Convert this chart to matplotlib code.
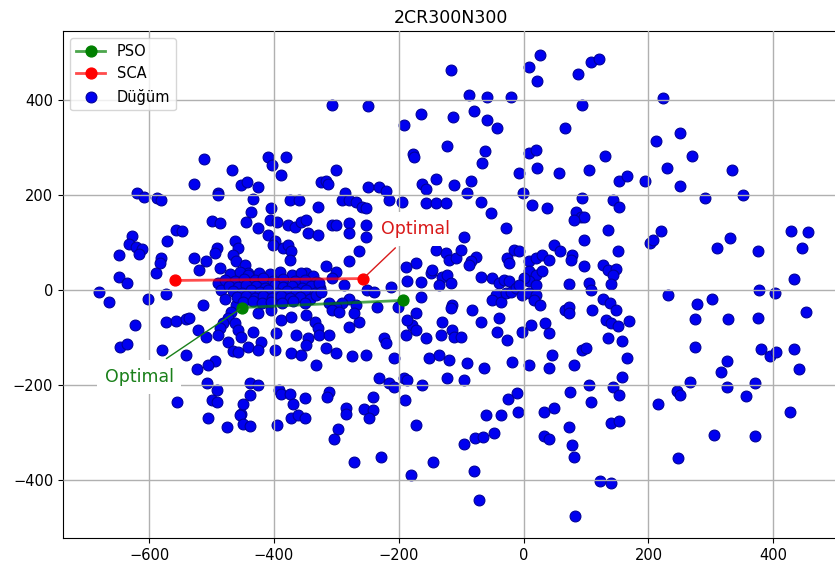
import numpy as np
from matplotlib import pyplot as plt

# node positions (Düğüm)
nodes_top = [
    (-512, 275), (-468, 253), (-528, 223), (-453, 220), (-443, 228), (-426, 216), (-490, 203),
    (-410, 279), (-403, 263), (-380, 279), (-388, 242), (-620, 203), (-608, 196), (-587, 193),
    (-581, 190), (-434, 191), (-375, 190), (-360, 190), (-324, 228),
    (-307, 389), (-250, 387), (-116, 463), (-88, 411), (-58, 407), (-20, 407), (8, 469), (27, 495),
    (21, 440), (-165, 371), (-192, 347), (-113, 364), (-80, 377), (-58, 357), (-43, 340), (67, 340),
    (-123, 302), (-177, 286), (-175, 279), (-62, 293), (-66, 267), (8, 288), (20, 295), (22, 256),
    (-8, 246), (57, 246), (-300, 253), (-317, 229), (-313, 222), (-250, 216), (-232, 216),
    (-221, 209), (-163, 223), (-157, 212), (-140, 233), (-112, 220), (-85, 230), (-91, 203),
    (-1, 205), (-286, 203),
    (87, 455), (108, 479), (121, 486), (94, 389), (223, 404), (250, 331), (212, 314), (130, 282),
    (270, 282), (105, 253), (152, 230), (165, 239), (195, 230), (229, 256), (333, 253), (251, 219),
]

nodes_left = [
    (-490, 200), (-405, 173), (-437, 165), (-329, 175), (-500, 145), (-487, 140), (-444, 144),
    (-426, 131), (-407, 147), (-395, 142), (-377, 137), (-366, 133), (-357, 144), (-348, 147),
    (-410, 116), (-399, 102), (-345, 119), (-329, 116), (-557, 126), (-548, 124), (-571, 102),
    (-627, 114), (-632, 96), (-621, 91), (-611, 86), (-616, 75), (-648, 74), (-581, 67), (-582, 56),
    (-589, 35), (-648, 28), (-636, 14), (-680, -4), (-664, -26), (-602, -20), (-573, -9),
    (-528, 67), (-520, 42), (-509, 60), (-492, 88), (-494, 77), (-487, 46), (-463, 102), (-458, 88),
    (-466, 74), (-460, 60), (-447, 53), (-442, 35), (-435, 25), (-402, 95), (-386, 88), (-378, 95),
    (-373, 81), (-375, 63), (-348, 35), (-490, 14), (-485, 0), (-479, -18), (-513, -32),
    (-426, -49), (-404, -42), (-388, -63), (-372, -56), (-348, -53), (-335, -67), (-329, -81),
    (-460, -32), (-469, -46), (-474, -60), (-482, -70), (-487, -81), (-490, -95), (-463, -70),
    (-458, -84), (-573, -67), (-557, -65), (-541, -61), (-536, -60), (-623, -74), (-522, -84),
    (-509, -98), (-474, -109), (-453, -98), (-434, -89), (-420, -109), (-396, -91), (-364, -95),
    (-345, -102), (-348, -116), (-646, -119), (-635, -114), (-579, -126), (-541, -137),
    (-495, -150), (-505, -157), (-524, -167), (-466, -128), (-458, -131), (-442, -119),
    (-426, -126), (-399, -126), (-373, -133), (-357, -137), (-333, -158),
]

nodes_cluster = [
    (-470, 34), (-455, 38), (-441, 31), (-424, 36), (-406, 33), (-391, 37), (-371, 31), (-356, 36),
    (-338, 30), (-478, 22), (-463, 18), (-448, 24), (-431, 20), (-417, 25), (-401, 19), (-385, 23),
    (-367, 18), (-350, 21), (-333, 17), (-472, 9), (-457, 6), (-444, 11), (-429, 8), (-414, 4),
    (-399, 10), (-386, 6), (-371, 9), (-355, 4), (-341, 8), (-326, 5), (-466, -3), (-451, -6),
    (-437, 0), (-423, -4), (-409, -1), (-395, -7), (-379, -2), (-364, -5), (-349, -1), (-335, -6),
    (-459, -15), (-445, -12), (-431, -17), (-417, -13), (-403, -16), (-388, -12), (-374, -17),
    (-358, -14), (-342, -18), (-449, -26), (-434, -24), (-419, -28), (-404, -25), (-387, -27),
    (-369, -24), (-351, -28), (-201, -35),
]

nodes_center = [
    (-291, 189), (-280, 189), (-269, 186), (-259, 175), (-253, 172), (-307, 137), (-301, 137),
    (-280, 140), (-280, 119), (-253, 137), (-253, 112), (-216, 189), (-195, 186), (-157, 182),
    (-141, 182), (-125, 182), (-69, 186), (-53, 161), (-96, 112), (-29, 130), (13, 179), (37, 172),
    (-141, 84), (-125, 77), (-120, 63), (-109, 67), (-101, 84), (-77, 70), (-85, 60), (-88, 53),
    (-27, 67), (-24, 56), (-16, 84), (-8, 81), (8, 60), (19, 67), (29, 74), (40, 63), (48, 95),
    (59, 81), (8, 39), (19, 32), (29, 39), (8, 18), (19, 11), (0, 25),
    (-316, 51), (-280, 60), (-264, 81), (-301, 37), (-307, 25), (-288, 11), (-328, 14), (-212, 7),
    (-251, 0), (-189, 49), (-173, 56), (-187, 18), (-165, 16), (-149, 35), (-147, 42), (-131, 28),
    (-123, 32), (-117, 14), (-136, 11), (-115, -32), (-117, -39), (-69, 28), (-51, 25), (-40, 14),
    (-32, 21), (-24, 18), (-45, -11), (-51, -21), (-37, -25), (-29, -7), (-21, -4), (-13, 4),
    (-8, 11), (-3, -11), (8, -7), (19, -11), (16, -21), (27, -32),
    (-165, -15), (-173, -49), (-179, -74), (-187, -63), (-173, -84), (-189, -95), (-157, -102),
    (-131, -67), (-133, -95), (-115, -84), (-112, -98), (-101, -98), (-83, -42), (-69, -67),
    (-40, -60), (-43, -88), (-27, -105), (-3, -88), (11, -74), (35, -70), (40, -91), (45, -137),
    (67, -42), (-224, -102), (-221, -112), (-208, -144), (-253, -137), (-275, -140), (-317, -123),
    (-301, -133), (-328, -95), (-312, -95), (-280, -77), (-264, -67), (-235, -35), (-240, -4),
    (-280, -18), (-269, -32), (-272, -49), (-291, -28), (-312, -28), (-301, -35), (-307, -42),
    (-296, -46), (-333, -11), (-325, -4), (-152, -144), (-136, -137), (-120, -147), (-91, -154),
    (-64, -165), (-19, -151), (8, -158), (40, -165),
]

nodes_right = [
    (93, 193), (143, 189), (153, 175), (290, 194), (352, 200), (84, 165), (92, 154), (97, 154),
    (81, 147), (135, 126), (97, 105), (151, 82), (78, 74), (76, 63), (97, 51), (127, 53), (135, 42),
    (148, 44), (143, 32), (140, 12), (105, 14), (108, 0), (73, 12), (202, 98), (207, 105),
    (220, 125), (310, 89), (330, 109), (376, 82), (428, 125), (455, 121), (446, 89), (433, 23),
    (377, 0), (403, -6), (232, -11), (278, -29), (302, -20), (275, -62), (328, -62), (376, -58),
    (452, -46), (73, -35), (73, -49), (110, -42), (127, -18), (138, -28), (148, -42), (132, -63),
    (140, -70), (151, -75), (169, -65), (135, -102), (158, -107), (94, -126), (100, -123),
    (165, -144), (275, -121), (325, -149), (380, -124), (394, -140), (404, -130), (433, -124),
]

nodes_bottom = [
    (-507, -196), (-491, -210), (-499, -232), (-492, -235), (-556, -236), (-505, -269),
    (-475, -288), (-453, -260), (-455, -263), (-450, -281), (-439, -286), (-450, -239),
    (-438, -222), (-438, -196), (-425, -200), (-395, -284), (-392, -211), (-389, -218),
    (-374, -218), (-370, -239), (-373, -269), (-362, -263), (-351, -270), (-350, -228),
    (-232, -186), (-216, -196), (-208, -204), (-192, -186), (-187, -189), (-163, -200),
    (-123, -186), (-95, -189), (-312, -214), (-315, -225), (-242, -226), (-190, -232),
    (-284, -249), (-284, -260), (-256, -251), (-242, -252), (-248, -270), (-297, -293),
    (-304, -314), (-173, -284), (-272, -361), (-229, -351), (-181, -389), (-146, -361),
    (-95, -324), (-78, -311), (-65, -309), (-48, -302), (-60, -263), (-37, -263), (-25, -230),
    (-11, -216), (-9, -256), (-79, -381), (-71, -442), (32, -256), (49, -249), (32, -307),
    (40, -314), (72, -288), (75, -214), (77, -326), (80, -351), (83, -475),
    (81, -158), (105, -199), (108, -235), (143, -204), (153, -220), (158, -184), (140, -279),
    (153, -275), (122, -402), (140, -406), (215, -240), (245, -213), (250, -220), (266, -193),
    (247, -354), (305, -305), (316, -173), (325, -204), (356, -223), (371, -196), (371, -307),
    (427, -256), (441, -167),
]

# best routes found by the two algorithms
pso_x = [-451, -193]
pso_y = [-37, -22]
sca_x = [-558, -257]
sca_y = [20, 24]

nodes = np.array(nodes_top + nodes_left + nodes_cluster + nodes_center + nodes_right + nodes_bottom)

fig = plt.figure(figsize=(8.35, 5.73), dpi=100)
ax = fig.add_axes([0.0754, 0.061, 0.930, 0.885])

h3, = ax.plot(nodes[:, 0], nodes[:, 1], 'o', markerfacecolor='#0000f0', markeredgecolor='#00009a',
              markeredgewidth=0.8, markersize=7.8, label='Düğüm', zorder=2)
h1, = ax.plot(pso_x, pso_y, '-', color=(0, 0.5, 0, 0.7), lw=2, marker='o', markersize=7.8,
              markerfacecolor='green', markeredgecolor='green', label='PSO', zorder=3)
h2, = ax.plot(sca_x, sca_y, '-', color=(1, 0, 0, 0.7), lw=2, marker='o', markersize=7.8,
              markerfacecolor='red', markeredgecolor='red', label='SCA', zorder=3)

ax.annotate('Optimal', xy=(sca_x[-1], sca_y[-1]), xytext=(-174, 128), ha='center', va='center',
            fontsize=12.5, color=(0.85, 0.1, 0.1),
            bbox=dict(boxstyle='square,pad=0.45', fc='white', ec='none'),
            arrowprops=dict(arrowstyle='-', color=(0.85, 0.1, 0.1), lw=1), zorder=4)
ax.annotate('Optimal', xy=(pso_x[0], pso_y[0]), xytext=(-616, -183), ha='center', va='center',
            fontsize=12.5, color=(0.1, 0.5, 0.1),
            bbox=dict(boxstyle='square,pad=0.45', fc='white', ec='none'),
            arrowprops=dict(arrowstyle='-', color=(0.1, 0.5, 0.1), lw=1), zorder=4)

ax.set_xlim(-738, 506)
ax.set_ylim(-522, 545)
ax.set_xticks([-600, -400, -200, 0, 200, 400])
ax.set_yticks([-400, -200, 0, 200, 400])
ax.tick_params(labelsize=10.5)
ax.set_axisbelow(False)
ax.grid(True, color='#b0b0b0', lw=1)
ax.set_title('2CR300N300', fontsize=12.5)
ax.legend(handles=[h1, h2, h3], loc='upper left', fontsize=10.5)

fig.savefig('out.png', dpi=100)
